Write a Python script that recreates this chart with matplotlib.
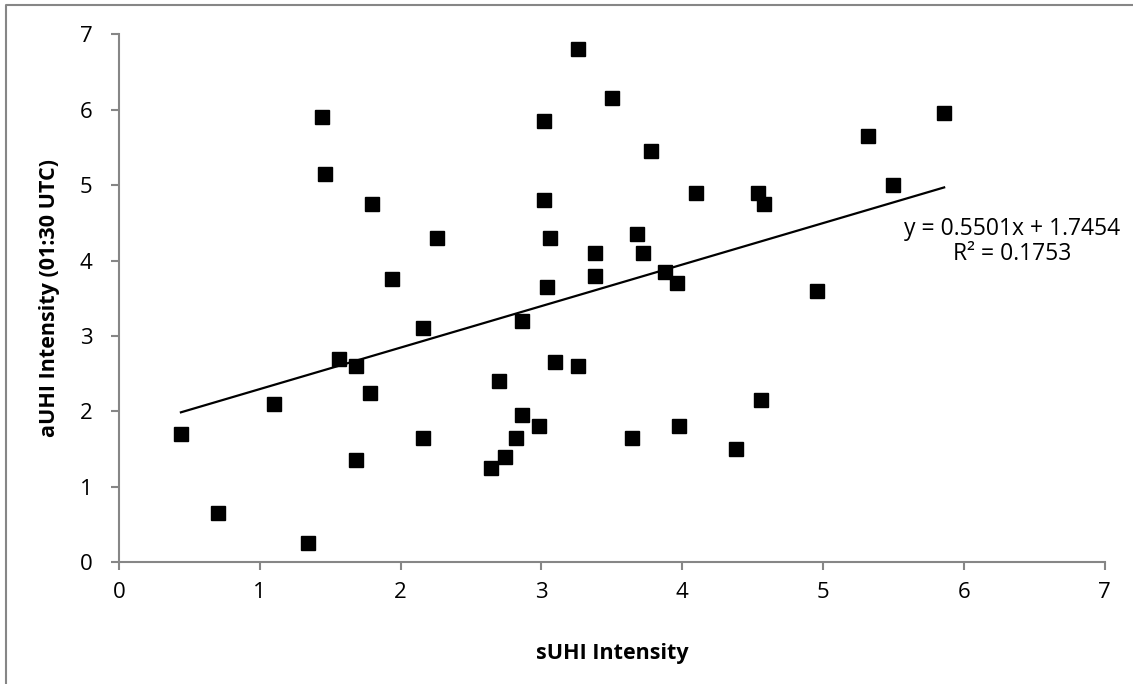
import numpy as np
import matplotlib
matplotlib.use("Agg")
import matplotlib.pyplot as plt
from matplotlib.lines import Line2D

# sUHI intensity (x) vs aUHI intensity at 01:30 UTC (y)
suhi = [0.44, 0.70, 1.34, 1.10, 1.44, 1.46, 1.80, 2.26, 1.94, 2.16,
        1.56, 1.68, 1.78, 2.16, 1.68,
        3.26, 3.50, 3.02, 3.78, 4.10, 4.54, 4.58, 3.02, 3.06, 3.68,
        3.38, 3.72, 3.38, 3.88, 3.96, 3.04, 2.86, 3.10, 3.26, 2.70,
        2.86, 2.98, 2.82, 2.74, 2.64, 3.64, 3.98, 4.56, 4.38,
        5.86, 5.32, 5.50, 4.96]
auhi = [1.70, 0.65, 0.25, 2.10, 5.90, 5.15, 4.75, 4.30, 3.75, 3.10,
        2.70, 2.60, 2.25, 1.65, 1.35,
        6.80, 6.15, 5.85, 5.45, 4.90, 4.90, 4.75, 4.80, 4.30, 4.35,
        4.10, 4.10, 3.80, 3.85, 3.70, 3.65, 3.20, 2.65, 2.60, 2.40,
        1.95, 1.80, 1.65, 1.40, 1.25, 1.65, 1.80, 2.15, 1.50,
        5.95, 5.65, 5.00, 3.60]

# trendline as reported by the chart
slope = 0.5501
intercept = 1.7454
r2 = 0.1753

plt.rcParams['font.family'] = ['Open Sans', 'DejaVu Sans']
gray = '#868686'

fig = plt.figure(figsize=(11.33, 6.84), dpi=100)
ax = fig.add_axes([0.105, 0.178, 0.870, 0.772])

ax.plot(suhi, auhi, linestyle='none', marker='s', markersize=10.5,
        color='black')

xs = np.array([min(suhi), max(suhi)])
ax.plot(xs, slope * xs + intercept, color='black', linewidth=1.6)

ax.text(6.34, 4.25, f"y = {slope:.4f}x + {intercept:.4f}\nR² = {r2:.4f}",
        ha='center', va='center', fontsize=16.5, linespacing=1.05,
        multialignment='center')

ax.set_xlim(0, 7)
ax.set_ylim(0, 7)
ax.set_xticks(range(8))
ax.set_yticks(range(8))

for side in ['top', 'right']:
    ax.spines[side].set_visible(False)
for side in ['left', 'bottom']:
    ax.spines[side].set_color(gray)
    ax.spines[side].set_linewidth(1.5)
ax.tick_params(direction='out', length=6, width=1.5, color=gray,
               labelsize=16)
ax.tick_params(axis='x', pad=8)
ax.tick_params(axis='y', pad=13)

ax.set_xlabel('sUHI Intensity', fontsize=15.5, fontweight='bold', labelpad=29)
ax.set_ylabel('aUHI Intensity (01:30 UTC)', fontsize=15.5, fontweight='bold',
              labelpad=14)

# outer chart border (cropped on right and bottom)
bx = 6 / 1133
by = 1 - 5 / 684
fig.add_artist(Line2D([bx, bx, 1], [0, by, by], transform=fig.transFigure,
                      color=gray, linewidth=1.5))

fig.savefig('out.png', dpi=100, facecolor='white')
